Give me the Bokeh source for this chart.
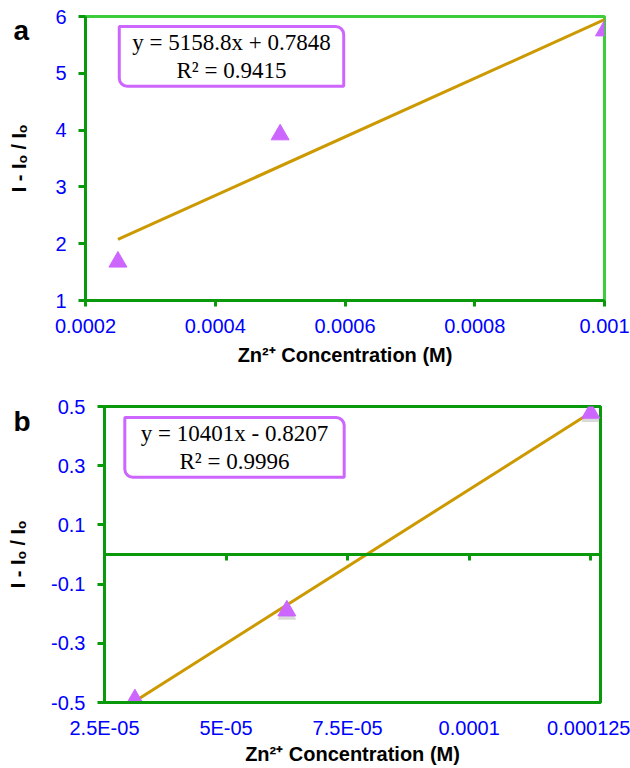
from bokeh.plotting import figure
from bokeh.layouts import column, row
from bokeh.models import Range1d, LinearAxis, FixedTicker, Label
from bokeh.embed import file_html
from bokeh.resources import INLINE

# ---- panel a: higher concentration range ----
conc_a = [0.00025, 0.0005, 0.001]
resp_a = [1.68, 3.92, 5.75]
slope_a, icept_a, r2_a = 5158.8, 0.7848, 0.9415
xticks_a = [0.0002, 0.0004, 0.0006, 0.0008, 0.001]
xlabels_a = ["0.0002", "0.0004", "0.0006", "0.0008", "0.001"]
yticks_a = [1, 2, 3, 4, 5, 6]
ylabels_a = ["1", "2", "3", "4", "5", "6"]

# ---- panel b: lower concentration range ----
conc_b = [3.125e-05, 6.25e-05, 0.000125]
resp_b = [-0.49, -0.19, 0.478]
slope_b, icept_b, r2_b = 10401, -0.8207, 0.9996
xticks_b = [2.5e-05, 5e-05, 7.5e-05, 0.0001, 0.000125]
xlabels_b = ["2.5E-05", "5E-05", "7.5E-05", "0.0001", "0.000125"]
yticks_b = [-0.5, -0.3, -0.1, 0.1, 0.3, 0.5]
ylabels_b = ["-0.5", "-0.3", "-0.1", "0.1", "0.3", "0.5"]

DARK_GREEN = "#0a990a"
LIGHT_GREEN = "#3ccc3c"
MARKER = "#cc66ff"
FIT = "#cc9900"
TICK_BLUE = "#0000ff"
SANS = "Liberation Sans"
SERIF = "Liberation Serif"
WIDTH = 630

X_TITLE = "Zn\u00b2\u207a Concentration (M)"
Y_TITLE = "I - I\u2092 / I\u2092"


def equation(slope, icept, r2):
    sign = "+" if icept >= 0 else "-"
    return f"y = {slope:g}x {sign} {abs(icept):g}\nR\u00b2 = {r2:g}"


def style_axis(ax, ticks, labels, tick_out):
    ax.ticker = FixedTicker(ticks=ticks)
    ax.major_label_overrides = dict(zip(ticks, labels))
    ax.axis_line_color = DARK_GREEN
    ax.axis_line_width = 3
    ax.major_tick_line_color = DARK_GREEN
    ax.major_tick_line_width = 3
    ax.major_tick_out = tick_out
    ax.major_tick_in = 0
    ax.minor_tick_line_color = None
    ax.major_label_text_color = TICK_BLUE
    ax.major_label_text_font = SANS
    ax.major_label_text_font_size = "20px"
    ax.axis_label_text_font = SANS
    ax.axis_label_text_font_style = "bold"
    ax.axis_label_text_font_size = "20px"
    ax.axis_label_text_color = "black"


def panel(conc, resp, slope, icept, xr, yr, height, borders, shadow=False):
    left, right, top, bottom = borders
    p = figure(width=WIDTH, height=height,
               x_range=Range1d(*xr), y_range=Range1d(*yr),
               min_border_left=left, min_border_right=right,
               min_border_top=top, min_border_bottom=bottom,
               output_backend="svg", toolbar_location=None)
    p.grid.visible = False
    p.outline_line_width = 3
    # least-squares trend line across the measured range
    x_fit = [min(conc), max(conc)]
    y_fit = [slope * x + icept for x in x_fit]
    p.line(x_fit, y_fit, line_color=FIT, line_width=3)
    if shadow:
        # soft drop shadow a few pixels below each marker
        frame_h = height - top - bottom
        dy = 3.5 * (yr[1] - yr[0]) / frame_h
        p.scatter(conc, [v - dy for v in resp], marker="triangle", size=19,
                  fill_color="#808080", fill_alpha=0.3, line_color=None)
    p.scatter(conc, resp, marker="triangle", size=18,
              fill_color=MARKER, line_color=MARKER)
    return p


def eq_box(text, x, y, pad_x):
    return Label(x=x, y=y, x_units="screen", y_units="screen", text=text,
                 anchor="top_center", text_align="center",
                 text_font=SERIF, text_font_size="23px", text_color="black",
                 text_line_height=1.15,
                 border_line_color=MARKER, border_line_width=3,
                 background_fill_color="white", padding=(pad_x, 3),
                 border_radius=(0, 8, 0, 8))


def panel_letter(p, letter, right_border, x, y):
    # placed in the right-hand side panel, shifted back to the canvas' left margin
    p.add_layout(Label(x=x - (WIDTH - right_border), y=y,
                       x_units="screen", y_units="screen", text=letter,
                       text_font=SANS, text_font_style="bold",
                       text_font_size="28px", text_color="black",
                       text_align="left", text_baseline="alphabetic"), "right")


# ---------- panel a ----------
pa = panel(conc_a, resp_a, slope_a, icept_a,
           (0.0002, 0.001), (1, 6), 385, (85, 26, 16, 85))
pa.outline_line_color = LIGHT_GREEN
style_axis(pa.xaxis[0], xticks_a, xlabels_a, 6)
style_axis(pa.yaxis[0], yticks_a, ylabels_a, 7)
pa.xaxis[0].axis_label = X_TITLE
pa.yaxis[0].axis_label = Y_TITLE
pa.xaxis[0].major_label_standoff = 12
pa.xaxis[0].axis_label_standoff = 8
pa.yaxis[0].major_label_standoff = 12
pa.yaxis[0].axis_label_standoff = 22
pa.add_layout(eq_box(equation(slope_a, icept_a, r2_a), 146, 274, 13))
panel_letter(pa, "a", 26, 13, 270)

# ---------- panel b ----------
pb = panel(conc_b, resp_b, slope_b, icept_b,
           (2.5e-05, 1.27e-04), (-0.5, 0.5), 383, (104, 30, 21, 66), shadow=True)
pb.outline_line_color = DARK_GREEN
style_axis(pb.xaxis[0], xticks_b, xlabels_b, 0)
style_axis(pb.yaxis[0], yticks_b, ylabels_b, 7)
pb.xaxis[0].major_tick_line_color = None
pb.xaxis[0].axis_label = X_TITLE
pb.yaxis[0].axis_label = Y_TITLE
pb.xaxis[0].major_label_standoff = 14
pb.xaxis[0].axis_label_standoff = 1
pb.yaxis[0].major_label_standoff = 12
pb.yaxis[0].axis_label_standoff = 19

# axis crossing at y = 0 with downward ticks
zero_axis = LinearAxis(fixed_location=0)
style_axis(zero_axis, xticks_b, ["" for _ in xlabels_b], 6)
zero_axis.major_label_text_font_size = "0px"
pb.add_layout(zero_axis, "below")

pb.add_layout(eq_box(equation(slope_b, icept_b, r2_b), 130, 285, 16))
panel_letter(pb, "b", 30, 13, 281)

layout = column(row(pa), row(pb), spacing=0)
open("out.html", "w").write(file_html(layout, INLINE))
